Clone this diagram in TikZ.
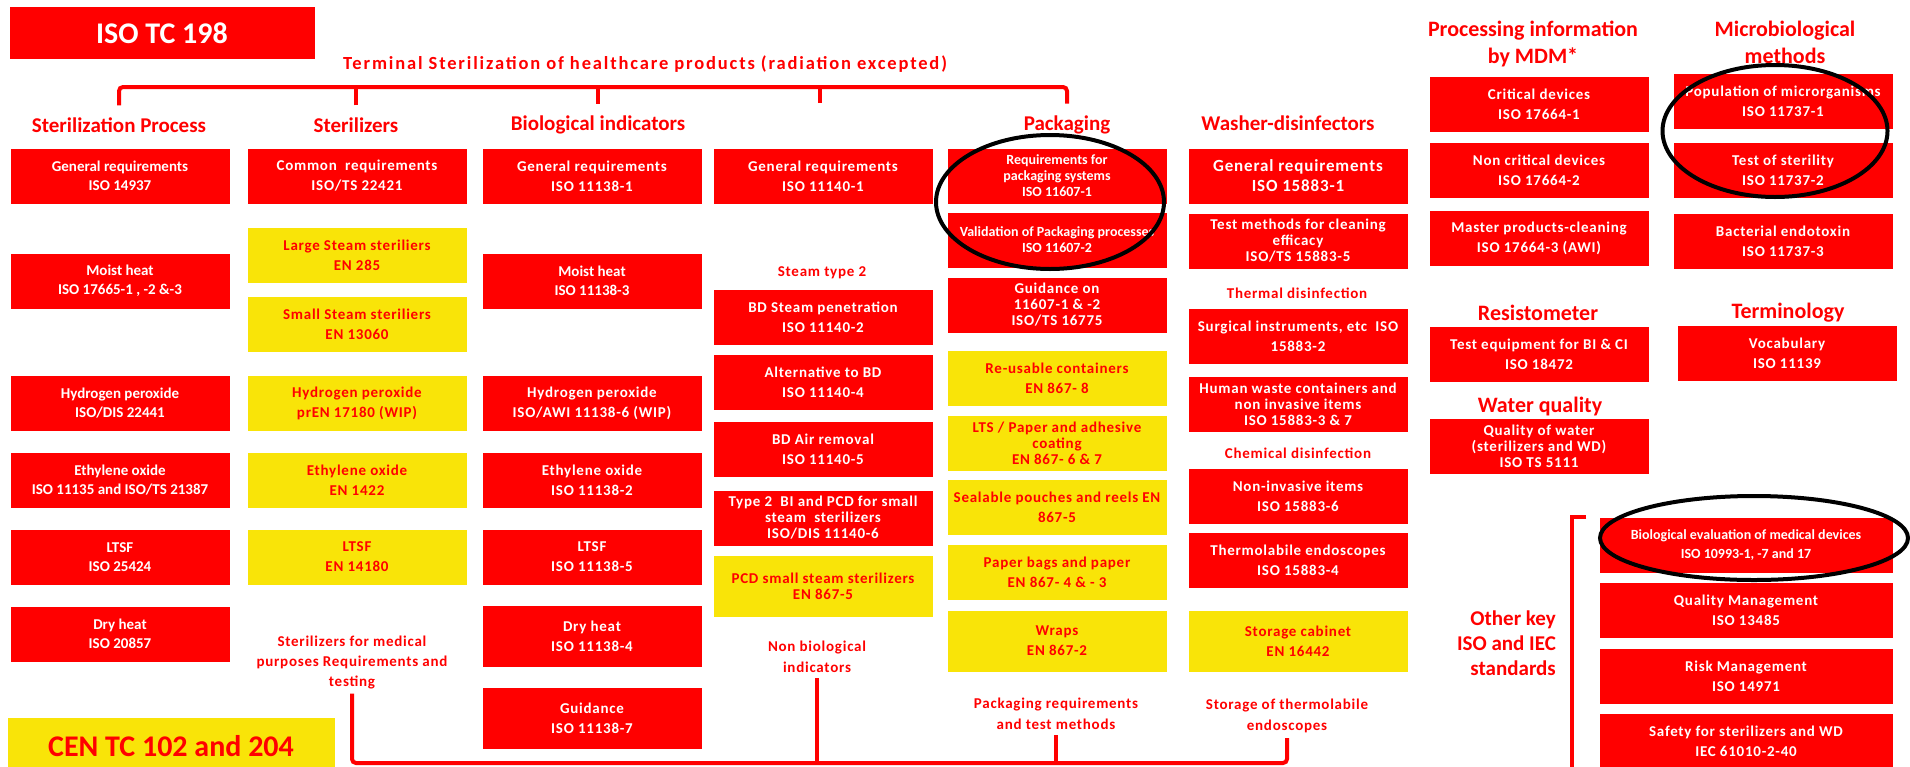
\documentclass[tikz,border=0pt]{standalone}
\usepackage{fontspec}
\setmainfont{Carlito}
\newfontfamily\wide[LetterSpace=5]{Carlito}
\newfontfamily\wider[LetterSpace=10]{Carlito}
\usetikzlibrary{shapes.geometric}
\definecolor{isored}{RGB}{255,0,0}
\definecolor{isoyellow}{RGB}{249,228,8}
\tikzset{
  std/.style={fill=isored, text=white, minimum width=219pt, minimum height=55pt, inner sep=1pt, align=center, font=\wide\bfseries\fontsize{15}{20}\selectfont},
  en/.style={std, fill=isoyellow, text=isored},
  narrow/.style={font=\bfseries\fontsize{15}{19}\selectfont},
  tight/.style={font=\wide\bfseries\fontsize{15}{16}\selectfont},
  head/.style={fill=white, text=isored, inner sep=3pt, align=center, font=\bfseries\fontsize{21}{27}\selectfont},
  note/.style={text=isored, inner sep=1pt, align=center, font=\wide\bfseries\fontsize{15}{21}\selectfont},
  big/.style={note, font=\bfseries\fontsize{22}{27}\selectfont},
  conn/.style={draw=isored, line width=4pt},
  ring/.style={ellipse, draw=black, line width=4pt},
}

\begin{document}
\begin{tikzpicture}[x=1pt,y=-1pt]
\useasboundingbox (0,0) rectangle (1910,766);

% committees and scope
\node[std, minimum width=305pt, minimum height=52pt, font=\bfseries\fontsize{30}{32}\selectfont] (tc) at (162,33) {ISO TC 198};
\node[note, font=\wider\bfseries\fontsize{18.5}{22}\selectfont] (scope) at (645,64) {Terminal Sterilization of healthcare products (radiation excepted)};
\node[en, minimum width=327pt, minimum height=56pt, font=\bfseries\fontsize{30}{32}\selectfont] (cen) at (171,746) {CEN TC 102 and 204};
\coordinate (bar) at (0,87);
\coordinate (base) at (0,763);

% column heads
\node[head] (hsp) at (119,125) {Sterilization Process};
\node[head] (hsz) at (356,125) {Sterilizers};
\node[head] (hbi) at (598,125) {Biological indicators};
\coordinate (hnb) at (820,103);
\node[head] (hpk) at (1067,125) {Packaging};
\node[head] (hwd) at (1288,123) {Washer-disinfectors};

% sterilization process
\node[std, narrow] (sp1) at (120,176) {General requirements\\ISO 14937};
\node[std, narrow] (sp2) at (120,281) {Moist heat\\ISO 17665-1 , -2 \&-3};
\node[std, narrow] (sp3) at (120,403) {Hydrogen peroxide\\ISO/DIS 22441};
\node[std, narrow] (sp4) at (120,480) {Ethylene oxide\\ISO 11135 and ISO/TS 21387};
\node[std, narrow] (sp5) at (120,557) {LTSF\\ISO 25424};
\node[std, narrow] (sp6) at (120,634) {Dry heat\\ISO 20857};

% sterilizers
\node[std] (sz1) at (357,176) {Common\ \ requirements\\ISO/TS 22421};
\node[en] (sz2) at (357,255) {Large Steam steriliers\\EN 285};
\node[en] (sz3) at (357,324) {Small Steam steriliers\\EN 13060};
\node[en] (sz4) at (357,403) {Hydrogen peroxide\\prEN 17180 (WIP)};
\node[en] (sz5) at (357,480) {Ethylene oxide\\EN 1422};
\node[en] (sz6) at (357,557) {LTSF\\EN 14180};
\node[note, font=\wide\bfseries\fontsize{15}{20}\selectfont] (lsz) at (352,662) {Sterilizers for medical\\purposes Requirements and\\testing};

% biological indicators
\node[std] (bi1) at (592,176) {General requirements\\ISO 11138-1};
\node[std, narrow] (bi2) at (592,281) {Moist heat\\ISO 11138-3};
\node[std] (bi3) at (592,403) {Hydrogen peroxide\\ISO/AWI 11138-6 (WIP)};
\node[std] (bi4) at (592,480) {Ethylene oxide\\ISO 11138-2};
\node[std] (bi5) at (592,557) {LTSF\\ISO 11138-5};
\node[std, minimum height=61pt] (bi6) at (592,636) {Dry heat\\ISO 11138-4};
\node[std, minimum height=61pt] (bi7) at (592,718) {Guidance\\ISO 11138-7};

% non biological indicators
\node[std] (nb1) at (823,176) {General requirements\\ISO 11140-1};
\node[head, minimum width=125pt, minimum height=35pt, font=\wide\bfseries\fontsize{15}{19}\selectfont] (st2) at (822,273) {Steam type 2};
\node[std] (nb2) at (823,317) {BD Steam penetration\\ISO 11140-2};
\node[std] (nb3) at (823,382) {Alternative to BD\\ISO 11140-4};
\node[std] (nb4) at (823,449) {BD Air removal\\ISO 11140-5};
\node[std, tight] (nb5) at (823,518) {Type 2\ \ BI and PCD for small\\steam\ \ sterilizers\\ISO/DIS 11140-6};
\node[en, tight, minimum height=61pt] (nb6) at (823,586) {PCD small steam sterilizers\\EN 867-5};
\node[note] (lnb) at (817,657) {Non biological\\indicators};

% packaging
\node[std, font=\bfseries\fontsize{14}{16}\selectfont] (pk1) at (1057,176) {Requirements for\\packaging systems\\ISO 11607-1};
\node[std, font=\bfseries\fontsize{14}{16}\selectfont] (pk2) at (1057,240) {Validation of Packaging processes\\ISO 11607-2};
\node[std, tight] (pk3) at (1057,305) {Guidance on\\11607-1 \& -2\\ISO/TS 16775};
\node[en] (pk4) at (1057,378) {Re-usable containers\\EN 867- 8};
\node[en, tight] (pk5) at (1057,443) {LTS / Paper and adhesive\\coating\\EN 867- 6 \& 7};
\node[en] (pk6) at (1057,507) {Sealable pouches and reels EN\\867-5};
\node[en] (pk7) at (1057,572) {Paper bags and paper\\EN 867- 4 \& - 3};
\node[en, minimum height=61pt] (pk8) at (1057,641) {Wraps\\EN 867-2};
\node[note] (lpk) at (1056,714) {Packaging requirements\\and test methods};

% washer-disinfectors
\node[std, font=\wide\bfseries\fontsize{17}{20}\selectfont] (wd1) at (1298,176) {General requirements\\ISO 15883-1};
\node[std, tight] (wd2) at (1298,241) {Test methods for cleaning\\efficacy\\ISO/TS 15883-5};
\node[note] (lth) at (1297,293) {Thermal disinfection};
\node[std] (wd3) at (1298,336) {Surgical instruments, etc\ \ ISO\\15883-2};
\node[std, tight] (wd4) at (1298,404) {Human waste containers and\\non invasive items\\ISO 15883-3 \& 7};
\node[note] (lch) at (1298,453) {Chemical disinfection};
\node[std] (wd5) at (1298,496) {Non-invasive items\\ISO 15883-6};
\node[std] (wd6) at (1298,560) {Thermolabile endoscopes\\ISO 15883-4};
\node[en, minimum height=61pt] (wd7) at (1298,641) {Storage cabinet\\EN 16442};
\node[note] (lwd) at (1287,716) {Storage of thermolabile\\endoscopes};

% processing information
\node[big] (hpi) at (1533,44) {Processing information\\by MDM*};
\node[std] (pi1) at (1539,104) {Critical devices\\ISO 17664-1};
\node[std] (pi2) at (1539,170) {Non critical devices\\ISO 17664-2};
\node[std] (pi3) at (1539,238) {Master products-cleaning\\ISO 17664-3 (AWI)};
\node[big] (hrs) at (1538,313) {Resistometer};
\node[std] (rs1) at (1539,354) {Test equipment for BI \& CI\\ISO 18472};
\node[big] (hwq) at (1540,407) {Water quality};
\node[std, tight] (wq1) at (1539,446) {Quality of water\\(sterilizers and WD)\\ISO TS 5111};

% microbiological methods
\node[big] (hmm) at (1785,42) {Microbiological\\methods};
\node[std] (mm1) at (1783,101) {Population of microrganisms\\ISO 11737-1};
\node[std] (mm2) at (1783,170) {Test of sterility\\ISO 11737-2};
\node[std] (mm3) at (1783,241) {Bacterial endotoxin\\ISO 11737-3};
\node[big] (htm) at (1788,313) {Terminology};
\node[std] (tm1) at (1787,353) {Vocabulary\\ISO 11139};

% other standards
\node[big, align=right, anchor=east, font=\bfseries\fontsize{21}{25}\selectfont] (hok) at (1557,643) {Other key\\ISO and IEC\\standards};
\node[std, minimum width=293pt, font=\bfseries\fontsize{14}{19}\selectfont] (ok1) at (1746,545) {Biological evaluation of medical devices\\ISO 10993-1, -7 and 17};
\node[std, minimum width=293pt] (ok2) at (1746,610) {Quality Management\\ISO 13485};
\node[std, minimum width=293pt] (ok3) at (1746,676) {Risk Management\\ISO 14971};
\node[std, minimum width=293pt, minimum height=54pt] (ok4) at (1746,741) {Safety for sterilizers and WD\\IEC 61010-2-40};

% brackets
\draw[conn, rounded corners=4pt, shorten <=9pt, shorten >=9pt] (hsp.north) -- (hsp.north |- bar) -- (hpk.north |- bar) -- (hpk.north);
\draw[conn, shorten <=9pt] (hsz.north) -- (hsz.north |- bar);
\draw[conn, shorten <=9pt] (hbi.north) -- (hbi.north |- bar);
\draw[conn] (hnb) -- (hnb |- bar);
\draw[conn, rounded corners=4pt, shorten <=4pt, shorten >=4pt] (lsz.south) -- (lsz.south |- base) -- (lwd.south |- base) -- (lwd.south);
\draw[conn, shorten <=4pt] (lnb.south) -- (lnb.south |- base);
\draw[conn, shorten <=4pt] (lpk.south) -- (lpk.south |- base);
\draw[conn] ([xshift=-13pt]ok1.north west) -| ([xshift=-27pt,yshift=-5pt]ok4.south west) -- ([xshift=-13pt,yshift=-5pt]ok4.south west);

% highlights
\node[ring, minimum width=228pt, minimum height=134pt] (rpk) at (1050,202) {};
\node[ring, minimum width=225pt, minimum height=132pt] (rmm) at (1775,131) {};
\node[ring, minimum width=308pt, minimum height=84pt] (rok) at (1754,538) {};
\end{tikzpicture}
\end{document}
